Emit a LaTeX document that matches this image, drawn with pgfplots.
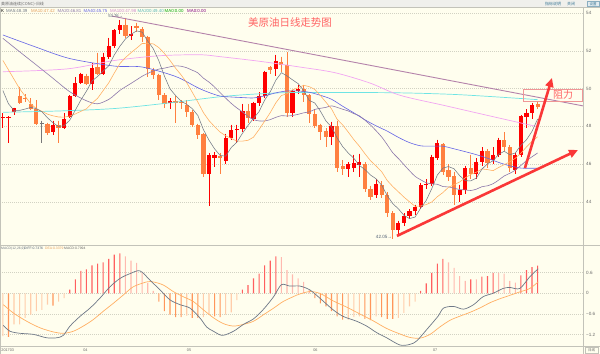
\documentclass[border=0pt]{standalone}
\usepackage{pgfplots}
\pgfplotsset{compat=1.18}
\usepackage{pgfplotstable}
\usetikzlibrary{arrows.meta}
\usepackage{fontspec}
\setmainfont{Liberation Sans}
\newfontfamily\cjk{Noto Sans CJK SC}
\newcommand\fs[1]{\fontsize{#1}{#1}\selectfont}

\definecolor{bgc}{RGB}{255,254,238}
\definecolor{headc}{RGB}{240,240,236}
\definecolor{upc}{RGB}{255,0,0}
\definecolor{dnc}{RGB}{255,128,64}
\definecolor{dojc}{RGB}{120,120,120}
\definecolor{ma5c}{RGB}{115,122,135}
\definecolor{ma10c}{RGB}{255,176,100}
\definecolor{ma20c}{RGB}{140,120,170}
\definecolor{ma40c}{RGB}{100,100,230}
\definecolor{ma100c}{RGB}{242,165,242}
\definecolor{ma200c}{RGB}{110,228,228}
\definecolor{trendc}{RGB}{180,130,170}
\definecolor{gridc}{RGB}{210,210,195}
\definecolor{framec}{RGB}{195,195,185}
\definecolor{txtc}{RGB}{105,105,105}
\definecolor{arrc}{RGB}{250,55,55}
\definecolor{hred}{RGB}{255,95,95}
\definecolor{hpink}{RGB}{255,185,175}
\definecolor{horange}{RGB}{255,150,90}
\definecolor{hpeach}{RGB}{255,205,170}
\definecolor{diffc}{RGB}{110,120,135}
\definecolor{deac}{RGB}{255,175,100}
\definecolor{titc}{RGB}{255,100,100}
\definecolor{boxc}{RGB}{240,150,150}
\definecolor{lblc}{RGB}{80,95,115}
\definecolor{tealc}{RGB}{60,120,150}

\pgfplotstableread{
k O H L C
0 48.46 48.70 47.90 48.49
1 48.48 48.55 47.10 48.51
2 48.74 49.00 48.60 48.95
9 47.70 48.30 47.55 48.10
11 47.90 48.70 47.85 48.40
12 48.50 49.65 48.45 49.60
13 49.60 50.60 49.55 50.30
14 50.30 50.85 50.25 50.80
16 50.25 51.35 49.95 51.10
18 50.80 51.90 50.75 51.70
19 51.70 52.70 51.60 52.25
20 52.25 53.15 52.15 53.10
21 53.10 53.64 52.90 53.38
23 52.80 53.30 52.60 52.90
30 49.22 49.50 48.90 49.36
37 45.50 46.60 43.76 46.48
38 46.35 46.65 45.85 46.48
40 46.18 47.60 46.00 47.36
41 47.40 48.10 47.30 47.80
42 47.80 48.10 47.10 47.85
43 47.84 49.20 47.70 48.83
45 48.40 49.30 48.30 49.26
46 49.26 49.80 49.10 49.60
47 49.60 50.95 49.50 50.90
49 51.03 51.80 50.70 51.49
52 48.73 49.95 48.50 49.87
53 49.87 50.20 49.70 49.98
59 47.45 48.25 47.00 48.02
62 45.72 46.10 45.30 46.00
63 45.80 46.50 45.60 46.05
64 45.95 46.55 45.30 46.10
67 44.35 45.20 44.20 44.97
71 42.53 43.00 42.30 42.90
72 42.90 43.40 42.70 43.25
73 43.25 43.60 43.10 43.50
74 43.50 43.85 43.30 43.75
75 43.75 45.00 43.60 44.90
76 44.88 45.20 44.70 44.97
77 44.95 46.50 44.85 46.40
78 46.35 47.30 46.20 47.10
82 44.35 44.90 44.00 44.60
83 44.60 45.90 44.40 45.77
85 45.50 46.30 45.20 46.10
86 46.10 46.90 45.90 46.70
88 46.20 46.90 46.00 46.50
89 46.50 47.40 46.40 47.27
92 45.70 46.60 45.50 46.50
93 46.50 48.60 46.40 48.55
94 48.50 48.90 47.90 48.73
95 48.73 49.25 48.40 49.13
}\upk

\pgfplotstableread{
k O H L C
3 49.60 50.10 49.20 49.25
4 49.48 49.70 49.30 49.43
5 49.20 49.50 48.85 48.90
6 48.90 49.40 48.10 48.15
8 48.15 48.20 47.55 47.65
10 48.05 48.30 47.10 47.90
15 50.70 50.80 50.20 50.25
17 51.15 51.90 50.75 50.80
22 53.38 53.76 52.70 52.78
24 53.35 53.50 53.00 53.20
25 53.17 53.25 52.50 52.76
26 52.76 52.80 50.64 51.03
27 51.00 51.10 50.50 50.73
28 50.73 50.80 49.40 49.66
29 49.66 49.75 49.00 49.19
31 49.36 49.60 48.20 49.26
32 49.27 49.40 48.90 49.24
33 49.13 49.40 48.50 48.78
34 48.78 48.85 47.95 48.07
35 48.07 48.15 47.35 47.54
36 47.59 47.65 45.30 45.50
39 46.44 46.60 45.50 46.30
44 48.83 49.20 48.20 48.42
48 51.13 51.20 50.80 51.00
50 51.43 51.70 50.90 51.26
51 51.26 51.96 48.50 48.73
54 49.96 50.20 49.30 49.66
55 49.66 49.70 48.16 48.65
56 48.65 48.90 47.90 48.02
57 48.07 48.15 47.30 47.72
58 47.77 47.90 46.90 47.42
60 48.02 48.30 45.60 45.77
61 45.90 46.20 45.40 45.72
65 46.00 46.10 44.50 44.70
66 44.70 44.85 44.10 44.27
68 44.90 45.10 44.20 44.35
69 44.35 44.50 43.20 43.38
70 43.38 43.50 42.05 42.53
79 47.04 47.10 45.40 45.56
80 45.70 46.00 45.10 45.33
81 45.38 45.60 43.85 44.35
84 45.77 46.50 45.20 45.50
87 46.70 46.80 45.80 46.05
90 47.27 47.70 46.70 46.90
91 46.90 47.00 45.60 45.77
96 49.17 49.30 48.90 49.05
}\dnk

\pgfplotstableread{
k O H L C
7 48.16 48.30 47.10 48.13
}\dojk

\pgfplotstableread{
k v
0 49.90
1 49.20
2 48.85
3 48.85
4 48.92
5 49.01
6 48.94
7 48.78
8 48.46
9 48.19
10 47.99
11 48.04
12 48.33
13 48.86
14 49.40
15 49.87
16 50.41
17 50.65
18 50.93
19 51.22
20 51.79
21 52.25
22 52.64
23 52.88
24 53.07
25 53.00
26 52.53
27 52.12
28 51.48
29 50.67
30 49.99
31 49.64
32 49.34
33 49.17
34 48.94
35 48.58
36 47.83
37 47.27
38 46.81
39 46.46
40 46.42
41 46.88
42 47.16
43 47.63
44 48.05
45 48.43
46 48.79
47 49.40
48 49.84
49 50.45
50 50.85
51 50.68
52 50.47
53 50.27
54 49.90
55 49.38
56 49.24
57 48.81
58 48.29
59 47.97
60 47.39
61 46.93
62 46.59
63 46.31
64 45.93
65 45.71
66 45.42
67 45.22
68 44.88
69 44.33
70 43.90
71 43.63
72 43.28
73 43.11
74 43.19
75 43.66
76 44.07
77 44.70
78 45.42
79 45.79
80 45.87
81 45.75
82 45.39
83 45.12
84 45.11
85 45.26
86 45.73
87 46.02
88 46.17
89 46.52
90 46.68
91 46.50
92 46.59
93 47.00
94 47.29
95 47.74
96 48.39
}\maV

\pgfplotstableread{
k v
0 51.50
1 51.00
2 50.50
3 50.00
4 49.60
5 49.20
6 48.95
7 48.80
8 48.65
9 48.56
10 48.50
11 48.49
12 48.55
13 48.66
14 48.80
15 48.93
16 49.23
17 49.49
18 49.90
19 50.31
20 50.83
21 51.33
22 51.65
23 51.91
24 52.15
25 52.40
26 52.39
27 52.38
28 52.18
29 51.87
30 51.50
31 51.09
32 50.73
33 50.32
34 49.81
35 49.29
36 48.73
37 48.31
38 47.99
39 47.70
40 47.50
41 47.36
42 47.22
43 47.22
44 47.26
45 47.43
46 47.84
47 48.28
48 48.73
49 49.25
50 49.64
51 49.73
52 49.94
53 50.05
54 50.18
55 50.11
56 49.96
57 49.64
58 49.28
59 48.93
60 48.38
61 48.08
62 47.70
63 47.30
64 46.95
65 46.55
66 46.18
67 45.90
68 45.60
69 45.13
70 44.81
71 44.53
72 44.25
73 44.00
74 43.76
75 43.78
76 43.85
77 43.99
78 44.27
79 44.49
80 44.77
81 44.91
82 45.05
83 45.27
84 45.45
85 45.57
86 45.74
87 45.71
88 45.65
89 45.82
90 45.97
91 46.12
92 46.31
93 46.58
94 46.91
95 47.21
96 47.45
}\maX

\pgfplotstableread{
k v
0 52.67
3 51.96
6 51.26
9 50.55
12 49.84
15 49.36
17 49.20
19 49.43
20 49.66
21 49.91
22 50.10
23 50.28
24 50.47
25 50.66
26 50.81
27 50.94
28 51.04
29 51.09
30 51.16
31 51.21
32 51.19
33 51.11
34 50.98
35 50.84
36 50.56
37 50.35
38 50.09
39 49.79
40 49.50
41 49.22
42 48.98
43 48.77
44 48.53
45 48.36
46 48.29
47 48.29
48 48.36
49 48.48
50 48.57
51 48.55
52 48.58
53 48.64
54 48.72
55 48.77
56 48.90
57 48.96
58 49.01
59 49.09
60 49.01
61 48.91
62 48.82
63 48.68
64 48.56
65 48.33
66 48.07
67 47.77
68 47.44
69 47.03
70 46.60
71 46.30
72 45.97
73 45.65
74 45.35
75 45.17
76 45.01
77 44.95
78 44.93
79 44.81
80 44.79
81 44.72
82 44.65
83 44.63
84 44.60
85 44.67
86 44.80
87 44.85
88 44.96
89 45.15
90 45.37
91 45.51
92 45.68
93 45.93
94 46.18
95 46.39
96 46.59
}\maXX

\pgfplotstableread{
k v
0 52.85
6 52.20
12 51.60
20 51.20
25 51.15
31 50.65
35 50.05
37 49.80
39 49.61
41 49.56
43 49.53
45 49.51
47 49.62
49 49.78
51 49.88
53 49.88
55 49.81
57 49.65
59 49.44
61 49.07
63 48.72
65 48.35
67 48.03
69 47.75
71 47.42
73 47.14
75 46.97
77 46.95
79 46.95
81 46.81
83 46.66
85 46.50
87 46.31
89 46.09
91 45.91
93 45.79
95 45.78
96 45.78
}\maXL

\pgfplotstableread{
k v
0 50.90
11.5 51.05
20.1 51.50
28.2 51.75
35.4 51.80
39 51.70
46.2 51.45
53.3 51.15
59.6 50.85
65.9 50.30
71.3 49.65
79.4 49.10
87.5 48.55
96 47.98
}\maC

\pgfplotstableread{
k v
0 48.75
10.25 48.82
20.1 48.95
30 49.25
39.9 49.60
49.7 49.78
59.6 49.80
71.3 49.78
82.1 49.68
96 49.42
}\maCC

\pgfplotstableread{
k v
12 0.11
13 0.40
14 0.65
15 0.69
16 0.81
17 0.86
18 0.90
19 1.00
20 1.12
21 1.16
43 0.11
44 0.24
45 0.43
46 0.57
47 0.81
48 0.95
49 1.07
75 0.07
76 0.29
77 0.59
78 0.86
79 1.00
84 0.40
86 0.48
87 0.50
88 0.59
93 0.52
94 0.67
95 0.76
96 0.80
}\hR

\pgfplotstableread{
k v
22 1.07
23 0.95
24 0.88
25 0.62
26 0.30
27 0.07
50 1.05
51 0.67
52 0.55
53 0.43
54 0.33
55 0.10
80 0.90
81 0.74
82 0.50
83 0.36
85 0.40
89 0.59
90 0.57
91 0.36
92 0.31
}\hP

\pgfplotstableread{
k v
1 -1.26
9 -0.36
28 -0.24
29 -0.52
30 -0.62
31 -0.69
32 -0.69
34 -0.71
35 -0.71
38 -0.67
39 -0.69
56 -0.14
57 -0.29
58 -0.38
59 -0.52
60 -0.67
61 -0.76
65 -0.74
66 -0.78
68 -0.69
69 -0.74
70 -0.74
}\hO

\pgfplotstableread{
k v
0 -1.24
2 -0.90
3 -0.90
4 -0.71
5 -0.62
6 -0.52
7 -0.48
8 -0.33
10 -0.24
11 -0.14
33 -0.65
36 -0.69
37 -0.62
40 -0.62
41 -0.55
42 -0.20
62 -0.76
63 -0.69
64 -0.67
67 -0.67
71 -0.71
72 -0.57
73 -0.38
74 -0.24
}\hE

\pgfplotstableread{
k v
0.08 -0.93
1.27 -1.10
3.07 -1.16
5.46 -1.19
7.86 -1.29
9.65 -1.29
10.85 -1.22
12.05 -0.95
13.84 -0.67
15.64 -0.43
17.43 -0.14
19.23 0.19
21.02 0.43
22.82 0.57
24.61 0.65
26.41 0.38
28.2 0.10
30.0 -0.19
31.8 -0.33
33.6 -0.43
35.4 -0.72
36.6 -0.98
37.8 -1.10
39.4 -1.22
41.4 -1.10
43.2 -0.90
45.0 -0.74
46.8 -0.46
48.6 -0.10
50.0 0.25
51.5 0.21
53.3 0.21
55.1 0.10
56.9 -0.14
59.3 -0.48
61.1 -0.67
63.5 -0.81
65.3 -0.95
67.1 -1.14
68.9 -1.29
71.3 -1.50
73.1 -1.48
74.3 -1.38
76.1 -1.05
78.1 -0.67
79.1 -0.43
80.9 -0.38
82.7 -0.46
84.5 -0.33
86.2 -0.10
88.0 0.0
89.8 0.14
91.0 0.17
92.8 0.14
94.6 0.48
96.1 0.71
}\diffT

\pgfplotstableread{
k v
0.08 -0.33
1.87 -0.57
4.27 -0.81
6.66 -1.00
9.05 -1.12
10.85 -1.16
12.65 -1.10
14.44 -0.95
16.24 -0.76
18.03 -0.52
19.83 -0.29
21.62 -0.05
23.42 0.19
25.81 0.33
27.0 0.33
28.8 0.24
30.6 0.05
32.4 -0.10
34.2 -0.24
36.0 -0.48
37.8 -0.71
39.6 -0.88
41.4 -0.95
43.2 -0.90
45.0 -0.81
46.8 -0.62
48.6 -0.43
50.3 -0.24
52.1 -0.10
53.3 -0.02
55.1 0.05
56.9 0.00
59.3 -0.22
61.7 -0.40
64.1 -0.60
66.5 -0.80
68.9 -1.02
71.3 -1.18
73.1 -1.28
74.9 -1.30
76.7 -1.19
78.5 -0.97
80.3 -0.78
82.1 -0.66
83.9 -0.55
85.7 -0.42
87.5 -0.27
89.2 -0.16
91.0 -0.06
92.8 0.04
94.6 0.14
96.1 0.33
}\deaT

\newcommand\candles[2]{%
  \addplot[only marks, mark=*, mark size=0pt, mark options={draw=none, fill=none}, forget plot,
    error bars/.cd, y dir=minus, y explicit, error mark=none,
    error bar style={draw=#2, line width=0.8bp}]
    table[x=k, y=H, y error expr=\thisrow{H}-\thisrow{L}] {#1};
  \addplot[only marks, mark=*, mark size=0pt, mark options={draw=none, fill=none}, forget plot,
    error bars/.cd, y dir=minus, y explicit, error mark=none,
    error bar style={draw=#2, line width=4.2bp}]
    table[x=k, y expr={max(\thisrow{O},\thisrow{C})}, y error expr={max(abs(\thisrow{O}-\thisrow{C}),0.03)}] {#1};
}

\pgfplotsset{base/.style={scale only axis, width=583bp, xmin=-0.52, xmax=104.15,
  axis line style={draw=none}, tick style={draw=none},
  ymajorgrids, grid style={gridc, dash pattern=on 1bp off 1bp, line width=0.5bp},
  yticklabel pos=right,
  yticklabel style={font=\fs{4.6}, text=txtc, anchor=west, inner sep=0pt, xshift=3bp},
  /pgf/number format/assume math mode=true,
  scaled y ticks=false}}

\begin{document}
\begin{tikzpicture}
\path[use as bounding box] (0bp,0bp) rectangle (600bp,-354bp);
\fill[bgc] (0bp,0bp) rectangle (600bp,-354bp);
\fill[headc] (0bp,0bp) rectangle (600bp,-7.5bp);

\begin{axis}[base, at={(0bp,-245bp)}, anchor=south west, height=237bp,
  ymin=41.708, ymax=54.281, xtick=\empty, ytick={44,46,48,50,52,54}]
  \candles{\upk}{upc}
  \candles{\dnk}{dnc}
  \candles{\dojk}{dojc}
  \addplot[ma200c, line width=0.7bp, smooth, mark=none] table[x=k,y=v] {\maCC};
  \addplot[ma100c, line width=0.7bp, smooth, mark=none] table[x=k,y=v] {\maC};
  \addplot[ma40c, line width=0.6bp, smooth, mark=none] table[x=k,y=v] {\maXL};
  \addplot[ma20c, line width=0.6bp, smooth, mark=none] table[x=k,y=v] {\maXX};
  \addplot[ma10c, line width=0.6bp, mark=none] table[x=k,y=v] {\maX};
  \addplot[ma5c, line width=0.55bp, mark=none] table[x=k,y=v] {\maV};
  \draw[trendc, line width=0.9bp] (axis cs:19.6,53.85) -- (axis cs:104.3,49.08);
  \draw[boxc, line width=0.6bp] (axis cs:93.37,49.98) rectangle (axis cs:103.95,49.35);
  \node[text=titc, font=\cjk\fs{10}, inner sep=0pt] at (axis cs:100.56,49.67) {阻力};
  \draw[arrc, line width=2.6bp, -{Triangle[length=9bp,width=8bp]}] (axis cs:70.75,42.19) -- (axis cs:103.25,46.75);
  \draw[arrc, line width=2.6bp, -{Triangle[length=9bp,width=8bp]}] (axis cs:93.73,45.79) -- (axis cs:98.58,50.57);
  \node[anchor=east, text=lblc, font=\fs{4.2}, inner sep=0pt] at (axis cs:21.6,53.86) {53.76→};
  \node[anchor=east, text=lblc, font=\fs{4.6}, inner sep=0pt] at (axis cs:69.9,42.15) {42.05→};
\end{axis}

\begin{axis}[base, at={(0bp,-346bp)}, anchor=south west, height=101bp,
  ymin=-1.528, ymax=1.40,
  ytick={-1.2,-0.6,0,0.6}, yticklabels={−1.2,−0.6,0,0.6},
  xtick={-0.3,14.4,33,55.7,77.2}, xticklabels={201703,04,05,06,07},
  xticklabel style={font=\fs{3.8}, text=txtc, anchor=north west, inner sep=0pt, yshift=-2.2bp}]
  \addplot[ybar, bar width=1.1bp, bar shift=0pt, fill=hpeach, draw=none, forget plot] table[x=k,y=v] {\hE};
  \addplot[ybar, bar width=1.1bp, bar shift=0pt, fill=horange, draw=none, forget plot] table[x=k,y=v] {\hO};
  \addplot[ybar, bar width=1.1bp, bar shift=0pt, fill=hpink, draw=none, forget plot] table[x=k,y=v] {\hP};
  \addplot[ybar, bar width=1.1bp, bar shift=0pt, fill=hred, draw=none, forget plot] table[x=k,y=v] {\hR};
  \addplot[deac, line width=0.7bp, smooth, mark=none] table[x=k,y=v] {\deaT};
  \addplot[diffc, line width=0.7bp, smooth, mark=none] table[x=k,y=v] {\diffT};
\end{axis}

% frame lines
\draw[framec, line width=0.6bp] (0bp,-7.5bp) -- (600bp,-7.5bp);
\draw[framec, line width=0.6bp] (583bp,-7.5bp) -- (583bp,-354bp);
\draw[framec, line width=0.6bp] (0bp,-245bp) -- (600bp,-245bp);
\draw[framec, line width=0.6bp] (0bp,-346bp) -- (600bp,-346bp);
\draw[framec, line width=0.6bp] (0.3bp,-7.5bp) -- (0.3bp,-354bp);

% header
\node[anchor=west, inner sep=0pt, font=\cjk\fs{4}, text=txtc] at (1bp,-3.8bp) {美原油连续(CONC)-日线};
\node[anchor=west, inner sep=0pt, font=\cjk\fs{4}, text=tealc] at (545bp,-3.8bp) {指标说明};
\node[anchor=west, inner sep=0pt, font=\cjk\fs{4}, text=tealc] at (567bp,-3.8bp) {关闭};
\draw[tealc!60, line width=0.4bp, fill=tealc!15] (587bp,-1.3bp) rectangle (599.5bp,-6.5bp);
\node[inner sep=0pt, font=\cjk\fs{3.5}, text=tealc] at (593.2bp,-3.9bp) {设置};

% legend row
\begin{scope}[every node/.style={anchor=west, inner sep=0pt, font=\fs{4.4}}]
\node[text=black] at (1bp,-10.8bp) {K};
\node[text=ma5c] at (6bp,-10.8bp) {MA5:48.39};
\node[text=ma10c!90!black] at (31bp,-10.8bp) {MA10:47.42};
\node[text=ma20c] at (57.5bp,-10.8bp) {MA20:46.81};
\node[text=ma40c] at (83.5bp,-10.8bp) {MA40:45.75};
\node[text=ma100c!85!black] at (110bp,-10.8bp) {MA100:47.98};
\node[text=ma200c!80!black] at (137.5bp,-10.8bp) {MA200:49.40};
\node[text=green!65!black] at (164.5bp,-10.8bp) {MA0:0.00};
\node[text=violet] at (187bp,-10.8bp) {MA0:0.00};
\node[text=ma5c] at (1bp,-248.6bp) {\fs{3.4}MACD(12,26,9)};
\node[text=lblc] at (24bp,-248.6bp) {\fs{3.4}DIFF:0.7376};
\node[text=deac!90!black] at (45bp,-248.6bp) {\fs{3.4}DEA:0.3379};
\node[text=txtc] at (64bp,-248.6bp) {\fs{3.4}MACD:0.7994};
\end{scope}

% title
\node[inner sep=0pt, font=\cjk\fs{10.5}, text=titc] at (290bp,-23bp) {美原油日线走势图};

% bottom-right box
\draw[framec, line width=0.4bp] (585bp,-347.5bp) rectangle (598bp,-353.3bp);
\node[inner sep=0pt, font=\cjk\fs{3.5}, text=txtc] at (591.5bp,-350.4bp) {日线};
\end{tikzpicture}
\end{document}
